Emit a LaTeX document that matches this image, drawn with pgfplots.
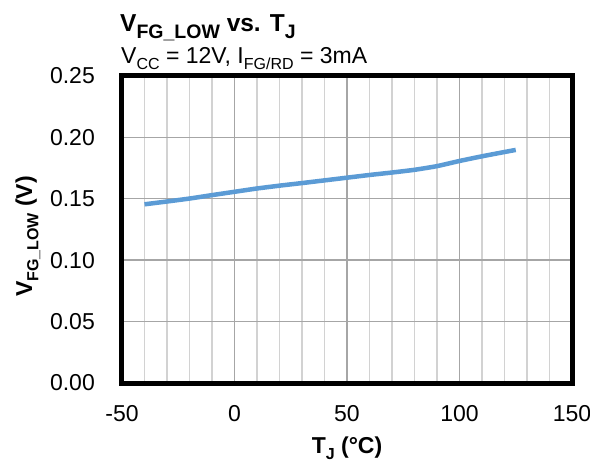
\documentclass[border=0pt]{standalone}
\usepackage{fontspec}
\setmainfont{Liberation Sans}
\usepackage{pgfplots}
\pgfplotsset{compat=1.18}
\definecolor{lineblue}{RGB}{91,155,213}
\definecolor{majgrid}{RGB}{166,166,166}
\definecolor{mingrid}{RGB}{210,210,210}
\newcommand\base{\fontsize{23bp}{27bp}\selectfont}
\newcommand\tfont{\fontsize{24.5bp}{28bp}\selectfont\bfseries}
\newcommand\sub[2]{\raisebox{-0.27em}{\fontsize{#1}{#1}\selectfont #2}}
\begin{document}
\begin{tikzpicture}
\useasboundingbox (-122bp,-79bp) rectangle (468bp,383bp);
\begin{axis}[
  at={(0,0)}, anchor=south west,
  scale only axis, width=450bp, height=307bp,
  clip mode=individual,
  xmin=-50, xmax=150, ymin=0, ymax=0.25,
  xtick={-50,0,50,100,150},
  minor x tick num=4,
  ytick={0,0.05,0.10,0.15,0.20,0.25},
  grid=both,
  major grid style={draw=majgrid, line width=1.4bp},
  minor grid style={draw=mingrid, line width=1.4bp},
  major tick length=0pt, minor tick length=0pt,
  axis line style={line width=5bp, black},
  /pgf/number format/assume math mode=true,
  tick label style={font=\base, inner sep=0pt},
  xticklabel style={anchor=north, yshift=-22bp},
  yticklabel style={anchor=east, xshift=-27bp, /pgf/number format/.cd, fixed, fixed zerofill, precision=2},
  every axis x label/.style={at={(axis description cs:0.5,0)}, anchor=base, yshift=-70bp, font=\base\bfseries},
  every axis y label/.style={at={(axis description cs:-0.209,0.477)}, rotate=90, anchor=center, font=\base\bfseries},
  xlabel={T\sub{16bp}{J} (°C)},
  ylabel={V\sub{16bp}{FG\_LOW} (V)},
]
\addplot[lineblue, line width=4.5bp, smooth, tension=0.3] coordinates {
(-40,0.1455) (-30,0.1478) (-20,0.1502) (-10,0.1530) (0,0.1557) (10,0.1584)
(20,0.1607) (30,0.1628) (40,0.1650) (50,0.1672) (60,0.1694) (70,0.1714)
(80,0.1736) (90,0.1766) (100,0.1808) (110,0.1846) (120,0.1881) (125,0.1898)
};
\node[anchor=base west, inner sep=0pt] at (rel axis cs:0,1) [xshift=-2bp, yshift=44bp] {\tfont V\sub{19.5bp}{FG\_LOW} vs. T\sub{19.5bp}{J}};
\node[anchor=base west, inner sep=0pt] at (rel axis cs:0,1) [xshift=-1bp, yshift=12.5bp] {\base V\sub{16bp}{CC} = 12V, I\sub{16bp}{FG/RD} = 3mA};
\end{axis}
\end{tikzpicture}
\end{document}
